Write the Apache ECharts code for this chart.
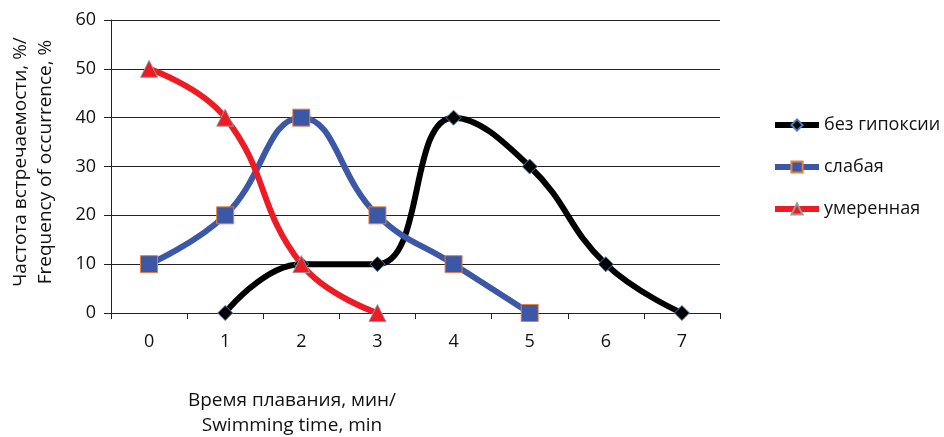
<!DOCTYPE html>
<html><head><meta charset="utf-8">
<script src="https://cdn.jsdelivr.net/npm/echarts@6/dist/echarts.min.js"></script>
<style>html,body{margin:0;padding:0;background:#fff}#c{width:944px;height:437px}</style>
</head><body><div id="c"></div>
<script>
const categories = ['0','1','2','3','4','5','6','7'];
const seriesNames = ['без гипоксии','слабая','умеренная'];
const noHypoxia = [null, 0, 10, 10, 40, 30, 10, 0];
const weak = [10, 20, 40, 20, 10, 0, null, null];
const moderate = [50, 40, 10, 0, null, null, null, null];
const yTicks = [0, 10, 20, 30, 40, 50, 60];

const FONT = '"Open Sans", "Noto Sans", sans-serif';
const chart = echarts.init(document.getElementById('c'));
chart.setOption({
  animation: false,
  textStyle: {fontFamily: FONT},
  grid: {left: 111, right: 224, top: 20, bottom: 124},
  legend: {
    orient: 'vertical', left: 767, top: 111, itemGap: 24,
    itemWidth: 44, itemHeight: 14,
    lineStyle: {width: 6},
    textStyle: {fontSize: 18, color: '#111', fontFamily: FONT},
    data: seriesNames
  },
  xAxis: {
    type: 'category', data: categories, boundaryGap: true,
    axisLine: {lineStyle: {color: '#222', width: 1}},
    axisTick: {show: true, length: 6, lineStyle: {color: '#222'}},
    axisLabel: {fontSize: 18, color: '#111', margin: 20}
  },
  yAxis: {
    type: 'value', min: yTicks[0], max: yTicks[yTicks.length-1], interval: 10,
    axisLine: {show: true, lineStyle: {color: '#222', width: 1}},
    axisTick: {show: true, length: 7, lineStyle: {color: '#222'}},
    axisLabel: {fontSize: 18, color: '#111', margin: 15},
    splitLine: {lineStyle: {color: '#222', width: 1.2}}
  },
  graphic: [
    {type: 'text', rotation: Math.PI/2, x: 21, y: 162, style: {text: 'Частота встречаемости, %/', font: '19px ' + FONT, fill: '#111', align: 'center', verticalAlign: 'middle'}},
    {type: 'text', rotation: Math.PI/2, x: 46, y: 162, style: {text: 'Frequency of occurrence, %', font: '19px ' + FONT, fill: '#111', align: 'center', verticalAlign: 'middle'}},
    {type: 'text', x: 292, y: 401, style: {text: 'Время плавания, мин/', font: '19px ' + FONT, fill: '#111', align: 'center', verticalAlign: 'middle'}},
    {type: 'text', x: 292, y: 426, style: {text: 'Swimming time, min', font: '19px ' + FONT, fill: '#111', align: 'center', verticalAlign: 'middle'}}
  ],
  series: [
    {name: seriesNames[0], type: 'line', data: noHypoxia, smooth: 0.45,
     symbol: 'diamond', symbolSize: 15,
     lineStyle: {color: '#000', width: 6},
     itemStyle: {color: '#000', borderColor: '#4a7ebb', borderWidth: 1}},
    {name: seriesNames[1], type: 'line', data: weak, smooth: 0.45,
     symbol: 'rect', symbolSize: 17,
     lineStyle: {color: '#3b57a5', width: 6},
     itemStyle: {color: '#3b57a5', borderColor: '#e8803a', borderWidth: 1}},
    {name: seriesNames[2], type: 'line', data: moderate, smooth: 0.45,
     symbol: 'triangle', symbolSize: 17,
     lineStyle: {color: '#ed1c24', width: 6},
     itemStyle: {color: '#ed1c24', borderColor: '#999', borderWidth: 1}}
  ]
});
</script></body></html>
